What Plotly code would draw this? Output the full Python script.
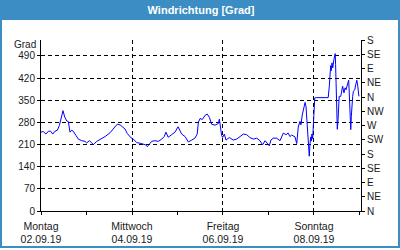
import plotly.graph_objects as go
import pandas as pd

# Data: hours after Mon 02.09.2019 00:00 and wind direction in degrees
hours = [0, 1.2, 2.6, 3.9, 5.1, 6.2, 7.4, 8.6, 9.7, 10.7, 11.6, 12.5, 13.6, 14.4, 15.3, 16.2, 17.0,
         18.5, 19.7, 21.5, 23.2, 24.1, 25.5, 26.7, 27.6, 29.4, 31.1, 33.8, 36.4, 39.0, 40.2, 41.7,
         43.1, 44.3, 45.5, 46.4, 47.5, 48.7, 50.5, 52.2, 54.0, 55.2, 56.1, 57.0, 58.4, 60.1, 61.9,
         63.7, 65.0, 65.9, 67.1, 68.9, 70.7, 72.3, 74.2, 76.0, 77.7, 79.5, 81.2, 82.4, 83.0, 83.9,
         85.1, 86.7, 87.7, 88.8, 90.0, 91.8, 93.5, 94.1, 94.6, 95.3, 95.8, 96.7, 97.6, 99.3, 101.4,
         103.2, 105.0, 106.7, 108.5, 110.2, 112.0, 113.8, 115.5, 116.9, 118.2, 119.4, 120.4, 121.3,
         122.5, 124.3, 126.1, 127.8, 129.2, 130.4, 131.3, 132.2, 133.1, 134.0, 134.9, 135.2, 135.7,
         136.6, 137.1, 137.8, 138.7, 139.3, 139.8, 140.1, 140.7, 141.2, 141.5, 141.9, 142.3, 142.6,
         142.9, 143.3, 143.6, 144.0, 144.4, 145.4, 151.5, 152.1, 152.4, 152.8, 153.1, 153.5, 153.9,
         154.2, 154.5, 154.9, 155.2, 155.4, 155.6, 155.9, 156.3, 156.7, 157.0, 157.3, 158.1, 158.8,
         159.1, 159.8, 160.4, 160.9, 161.6, 162.3, 162.6, 163.0, 163.4, 163.7, 164.1, 164.4, 164.8,
         165.5, 166.0, 166.6, 167.1, 167.4, 167.7]
values = [249, 251, 243, 252, 252, 243, 252, 255, 270, 297, 317, 297, 284, 283, 249, 255, 252,
          238, 227, 222, 220, 215, 222, 216, 209, 220, 226, 235, 247, 265, 274, 272,
          265, 259, 245, 238, 231, 227, 216, 214, 212, 209, 203, 209, 220, 222, 220,
          227, 235, 249, 233, 241, 249, 266, 243, 235, 218, 224, 230, 243, 280, 292,
          289, 303, 306, 296, 274, 271, 276, 290, 266, 238, 232, 243, 224, 232, 224,
          227, 235, 243, 241, 232, 227, 230, 222, 209, 222, 213, 206, 224,
          230, 230, 222, 246, 241, 246, 235, 240, 238, 234, 213, 232, 265,
          283, 272, 303, 324, 343, 330, 303, 265, 221, 173, 213, 234, 221,
          243, 228, 265, 320, 357, 358, 358, 395, 449, 459, 443, 468, 452,
          475, 478, 490, 497, 462, 404, 330, 258, 288, 336, 362, 362, 383,
          394, 373, 389, 383, 399, 413, 373, 299, 257, 299, 346, 362, 378,
          383, 399, 413, 394, 373, 362]

start = "2019-09-02 00:00"
x_end = "2019-09-09 00:48"
day_ticks = ["2019-09-02", "2019-09-04", "2019-09-06", "2019-09-08"]
day_labels = ["Montag<br>02.09.19", "Mittwoch<br>04.09.19", "Freitag<br>06.09.19", "Sonntag<br>08.09.19"]
left_ticks = [0, 70, 140, 210, 280, 350, 420, 490]
right_ticks = [0, 45, 90, 135, 180, 225, 270, 315, 360, 405, 450, 495, 540]
right_labels = ["N", "NE", "E", "SE", "S", "SW", "W", "NW", "N", "NE", "E", "SE", "S"]

times = pd.Timestamp(start) + pd.to_timedelta(hours, unit="h")

BLUE = "#3b8dc4"
FONT = "Liberation Sans, Arial, sans-serif"
W, H = 400, 250
L, R, T, B = 41, 39, 40, 39
pw, ph = W - L - R, H - T - B

def px(x):
    return (x - L) / pw

def py(y):
    return (H - B - y) / ph

fig = go.Figure()
fig.add_trace(go.Scatter(x=times, y=values, mode="lines",
                         line=dict(color="#0000ff", width=1), showlegend=False))
fig.add_trace(go.Scatter(x=[times[0]], y=[0], yaxis="y2", mode="markers",
                         marker=dict(opacity=0), showlegend=False, hoverinfo="skip"))

fig.update_layout(
    width=W, height=H,
    margin=dict(l=L, r=R, t=T, b=B),
    paper_bgcolor="white", plot_bgcolor="white",
    font=dict(family=FONT, size=10, color="#1a1a1a"),
    title=dict(text="Windrichtung [Grad]", x=0.5, xref="paper", xanchor="center",
               y=1 - 10.5 / H, yref="container", yanchor="middle",
               font=dict(family=FONT, size=11, color="white", weight="bold")),
    xaxis=dict(type="date", range=[start, x_end], automargin=False,
               tickvals=day_ticks, ticktext=day_labels,
               tickfont=dict(size=10.5),
               showgrid=True, gridcolor="black", griddash="4px,3px", gridwidth=1,
               showline=True, linecolor="black", linewidth=1,
               ticks="outside", ticklen=3, tickcolor="black", ticklabelstandoff=2,
               minor=dict(dtick=86400000, ticks="outside", ticklen=3, tickcolor="black", showgrid=False),
               zeroline=False, fixedrange=True),
    yaxis=dict(range=[0, 540], tickvals=left_ticks, automargin=False,
               showgrid=True, gridcolor="black", griddash="4px,3px", gridwidth=1,
               showline=True, linecolor="black", linewidth=1,
               ticks="outside", ticklen=3, tickcolor="black",
               zeroline=False, fixedrange=True),
    yaxis2=dict(range=[0, 540], overlaying="y", side="right", automargin=False,
                tickvals=right_ticks, ticktext=right_labels,
                showgrid=False, showline=True, linecolor="black", linewidth=1,
                ticks="outside", ticklen=3, tickcolor="black",
                zeroline=False, fixedrange=True),
    annotations=[dict(text="Grad", xref="paper", yref="paper", x=0, y=1,
                      xanchor="right", yanchor="middle", xshift=-3, yshift=-4,
                      showarrow=False, font=dict(family=FONT, size=10, color="#1a1a1a"))],
    shapes=[
        dict(type="rect", xref="paper", yref="paper",
             x0=px(0), x1=px(W), y0=py(0), y1=py(20),
             fillcolor=BLUE, line=dict(width=0), layer="below"),
        dict(type="rect", xref="paper", yref="paper",
             x0=px(1), x1=px(W - 1), y0=py(1), y1=py(247),
             fillcolor="rgba(0,0,0,0)", line=dict(color=BLUE, width=2), layer="above"),
    ],
)

fig.write_html("out.html", config={"displayModeBar": False})
